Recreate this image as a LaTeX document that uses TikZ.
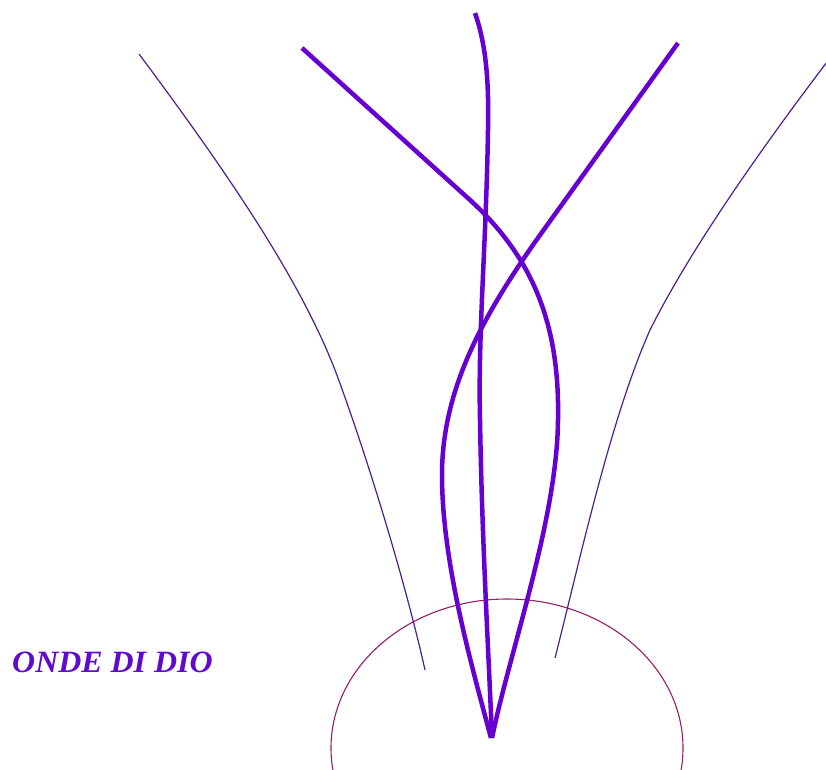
\documentclass[tikz,border=0pt]{standalone}
\usepackage{fontspec}
\newfontfamily\titlefont{Liberation Serif}
\definecolor{thickc}{RGB}{102,0,210}
\definecolor{thinc}{RGB}{80,30,140}
\definecolor{circc}{RGB}{150,30,100}
\definecolor{textc}{RGB}{95,10,205}
\tikzset{
  wave/.style={draw=thickc, line width=4.5pt, line join=round},
  thinwave/.style={draw=thinc, line width=1.2pt},
  ring/.style={draw=circc, line width=1.1pt},
  label/.style={text=textc, font=\titlefont\bfseries\itshape\fontsize{31}{31}\selectfont, inner sep=0pt, anchor=west, xscale=1.03}
}
\begin{document}
\begin{tikzpicture}[x=1pt,y=-1pt]
\useasboundingbox (0,0) rectangle (826,769);
\begin{scope}
\clip (0,0) rectangle (826,769);
% ellipse
\draw[ring] (507,748) ellipse [x radius=176, y radius=149];
% thin side curves
\draw[thinwave] (139,54) .. controls (230,176) and (300,280) .. (335,370)
  .. controls (365,450) and (405,580) .. (425,670);
\draw[thinwave] (830,58) .. controls (760,150) and (690,250) .. (650,330)
  .. controls (610,420) and (580,560) .. (555,658);
% thick curves
\draw[wave] (475,13) .. controls (486,45) and (489,80) .. (488,130)
  .. controls (486,250) and (478,330) .. (480,420)
  .. controls (482,540) and (488,640) .. (492,738);
\draw[wave] (302,48) -- (470,200) .. controls (530,255) and (560,320) .. (558,420)
  .. controls (557,520) and (510,650) .. (492,738);
\draw[wave] (678,43) -- (535,242) .. controls (482,318) and (442,390) .. (442,475)
  .. controls (442,560) and (470,660) .. (491,738);
\end{scope}
\node[label] (title) at (12,662) {ONDE DI DIO};
\end{tikzpicture}
\end{document}
